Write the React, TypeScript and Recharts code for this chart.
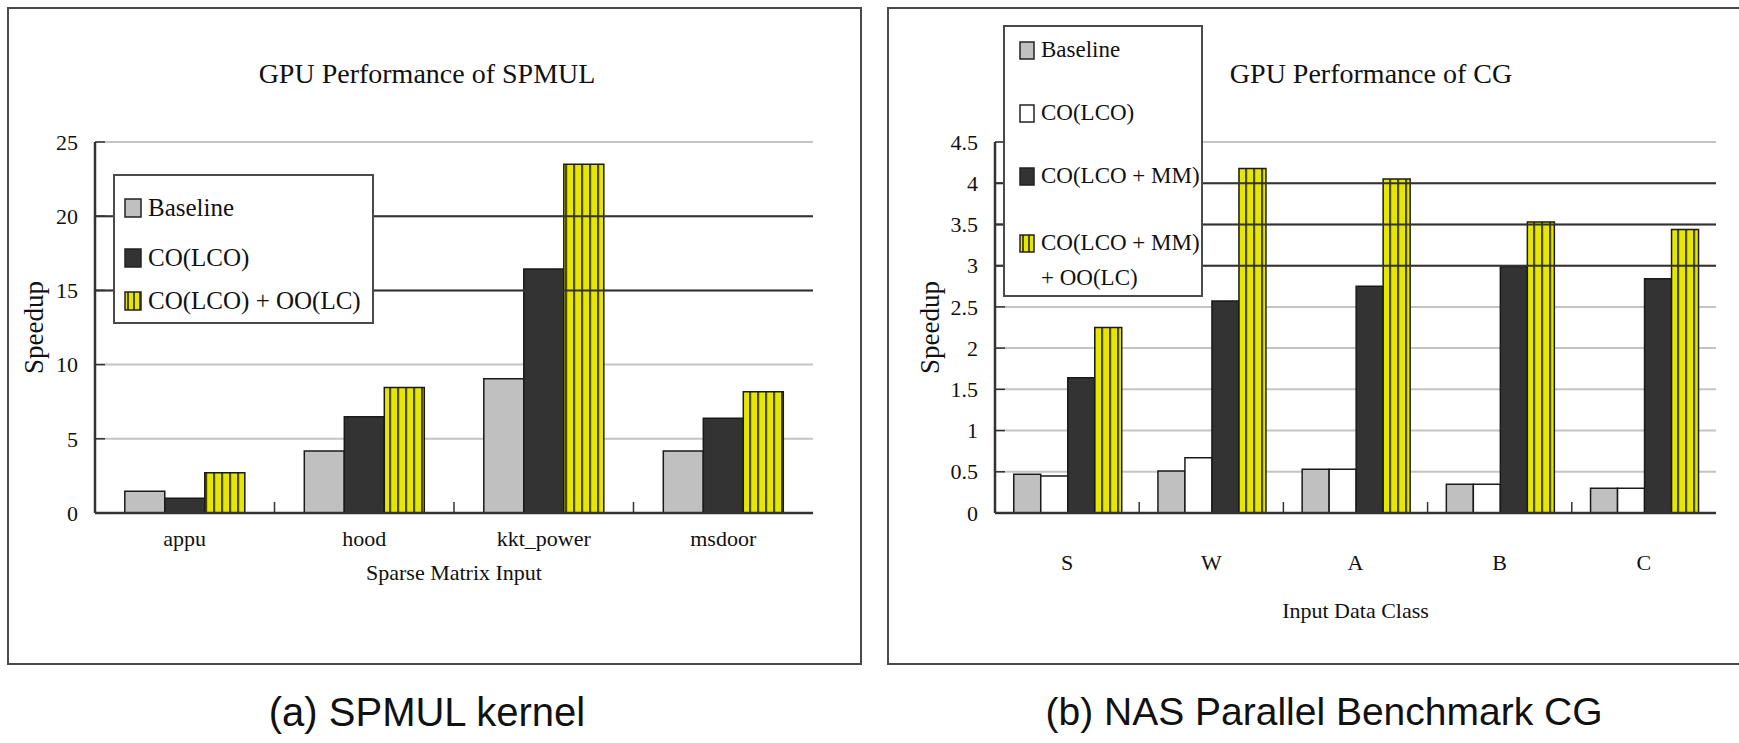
import { BarChart, Bar, XAxis, YAxis, CartesianGrid, ReferenceLine } from 'recharts';

// (a) SPMUL kernel
const spmulInputs = ['appu', 'hood', 'kkt_power', 'msdoor'];
const spmulBaseline = [1.47, 4.18, 9.04, 4.18];
const spmulCo = [0.99, 6.48, 16.44, 6.39];
const spmulCoOo = [2.71, 8.46, 23.5, 8.17];
const spmulTicks = [0, 5, 10, 15, 20, 25];
const spmulDarkGrid = [15, 20];

// (b) NAS Parallel Benchmark CG
const cgClasses = ['S', 'W', 'A', 'B', 'C'];
const cgBaseline = [0.47, 0.51, 0.53, 0.35, 0.3];
const cgCo = [0.45, 0.67, 0.53, 0.35, 0.3];
const cgCoMm = [1.64, 2.57, 2.75, 2.99, 2.84];
const cgCoMmOo = [2.25, 4.18, 4.05, 3.53, 3.44];
const cgTicks = [0, 0.5, 1, 1.5, 2, 2.5, 3, 3.5, 4, 4.5];
const cgDarkGrid = [3, 3.5, 4];

const SERIF = '"Liberation Serif", "DejaVu Serif", serif';
const SANS = '"Liberation Sans", Arial, sans-serif';
const INK = '#111';
const FRAME = '#4a4a4a';

type Series = { key: string; name: string; fill: string; striped?: boolean };

const spmulSeries: Series[] = [
  { key: 'baseline', name: 'Baseline', fill: '#c0c0c0' },
  { key: 'co', name: 'CO(LCO)', fill: '#333333' },
  { key: 'coOo', name: 'CO(LCO) + OO(LC)', fill: '#e6e600', striped: true },
];

const cgSeries: Series[] = [
  { key: 'baseline', name: 'Baseline', fill: '#c0c0c0' },
  { key: 'co', name: 'CO(LCO)', fill: '#ffffff' },
  { key: 'coMm', name: 'CO(LCO + MM)', fill: '#333333' },
  { key: 'coMmOo', name: 'CO(LCO + MM)\n+ OO(LC)', fill: '#e6e600', striped: true },
];

const spmulData = spmulInputs.map((name, i) => ({
  name,
  baseline: spmulBaseline[i],
  co: spmulCo[i],
  coOo: spmulCoOo[i],
}));

const cgData = cgClasses.map((name, i) => ({
  name,
  baseline: cgBaseline[i],
  co: cgCo[i],
  coMm: cgCoMm[i],
  coMmOo: cgCoMmOo[i],
}));

const Stripes = ({ id }: { id: string }) => (
  <pattern id={id} patternUnits="userSpaceOnUse" width={8} height={8}>
    <rect x={0} y={0} width={8} height={8} fill="#e6e600" />
    <rect x={5} y={0} width={2.2} height={8} fill="#4d4d00" />
  </pattern>
);

const Swatch = ({ s, id, w, h }: { s: Series; id: string; w: number; h: number }) => (
  <svg width={w} height={h} style={{ position: 'absolute', left: 0, top: 0 }}>
    {s.striped && (
      <defs>
        <pattern id={id} patternUnits="userSpaceOnUse" width={6} height={6}>
          <rect x={0} y={0} width={6} height={6} fill="#e6e600" />
          <rect x={3} y={0} width={2} height={6} fill="#4d4d00" />
        </pattern>
      </defs>
    )}
    <rect x={1} y={1} width={w - 2} height={h - 2} fill={s.striped ? `url(#${id})` : s.fill} stroke="#222" strokeWidth={1.5} />
  </svg>
);

interface LegendBoxProps {
  series: Series[];
  left: number;
  top: number;
  width: number;
  height: number;
  rowTops: number[];
  fontSize: number;
  swatchX: number;
  textX: number;
  swatchW: number;
  swatchH: number;
  idPrefix: string;
}

const LegendBox = (p: LegendBoxProps) => (
  <div
    style={{
      position: 'absolute',
      left: p.left,
      top: p.top,
      width: p.width,
      height: p.height,
      boxSizing: 'border-box',
      border: `2px solid ${FRAME}`,
      background: '#fff',
      fontFamily: SERIF,
      fontSize: p.fontSize,
      color: INK,
    }}
  >
    {p.series.map((s, i) => (
      <div key={s.key} style={{ position: 'absolute', left: 0, top: p.rowTops[i], width: '100%' }}>
        <div style={{ position: 'absolute', left: p.swatchX, top: (p.fontSize * 1.5 - p.swatchH) / 2, width: p.swatchW, height: p.swatchH }}>
          <Swatch s={s} id={`${p.idPrefix}-${s.key}`} w={p.swatchW} h={p.swatchH} />
        </div>
        <div style={{ position: 'absolute', left: p.textX, top: 0, whiteSpace: 'pre', lineHeight: 1.5 }}>
          {s.name}
        </div>
      </div>
    ))}
  </div>
);

const tickText = { fontSize: 22, fill: INK, fontFamily: SERIF };

// category label plus the small inner mark at the left edge of its band
const CategoryTick = (props: any) => {
  const { x, y, payload, index, width, visibleTicksCount, margin } = props;
  const half = payload?.offset || width / visibleTicksCount / 2;
  const axisY = y - margin;
  return (
    <g>
      {index > 0 && (
        <line x1={x - half} x2={x - half} y1={axisY} y2={axisY - 11} stroke="#333" strokeWidth={1.5} />
      )}
      <text x={x} y={y} dy="0.8em" textAnchor="middle" {...tickText}>
        {payload.value}
      </text>
    </g>
  );
};

// value label plus the inner tick mark
const ValueTick = (props: any) => {
  const { x, y, payload, margin } = props;
  const axisX = x + margin;
  return (
    <g>
      <line x1={axisX} x2={axisX + 10} y1={y} y2={y} stroke="#333" strokeWidth={1.5} />
      <text x={x} y={y} dy="0.35em" textAnchor="end" {...tickText}>
        {payload.value}
      </text>
    </g>
  );
};

interface ChartProps {
  data: Array<Record<string, string | number>>;
  series: Series[];
  ticks: number[];
  darkGrid: number[];
  width: number;
  height: number;
  margin: { top: number; right: number; bottom: number; left: number };
  yAxisWidth: number;
  xAxisHeight: number;
  xTickMargin: number;
  xLabel: string;
  xLabelOffset: number;
  yLabelOffset: number;
  categoryGap: string;
  patternId: string;
}

const SpeedupChart = (p: ChartProps) => {
  const top = p.ticks[p.ticks.length - 1];
  return (
    <BarChart
      width={p.width}
      height={p.height}
      data={p.data}
      margin={p.margin}
      barGap={0}
      barCategoryGap={p.categoryGap}
    >
      <defs>
        <Stripes id={p.patternId} />
      </defs>
      <CartesianGrid vertical={false} stroke="#c4c4c4" strokeWidth={2} />
      {p.darkGrid.map((v) => (
        <ReferenceLine key={v} y={v} stroke="#333" strokeWidth={2} />
      ))}
      <XAxis
        dataKey="name"
        height={p.xAxisHeight}
        tickLine={false}
        tickSize={0}
        tickMargin={p.xTickMargin}
        axisLine={{ stroke: '#333', strokeWidth: 2.5 }}
        tick={(props: any) => <CategoryTick {...props} margin={p.xTickMargin} />}
        label={{
          value: p.xLabel,
          position: 'insideBottom',
          offset: p.xLabelOffset,
          style: tickText,
        }}
      />
      <YAxis
        width={p.yAxisWidth}
        domain={[0, top]}
        ticks={p.ticks}
        interval={0}
        tickSize={0}
        tickMargin={17}
        tickLine={false}
        axisLine={{ stroke: '#333', strokeWidth: 2.5 }}
        tick={(props: any) => <ValueTick {...props} margin={17} />}
        label={{
          value: 'Speedup',
          angle: -90,
          position: 'insideLeft',
          offset: p.yLabelOffset,
          style: { textAnchor: 'middle', fontSize: 27, fill: INK, fontFamily: SERIF },
        }}
      />
      <YAxis
        yAxisId="right"
        orientation="right"
        width={0}
        domain={[0, top]}
        tick={false}
        tickLine={false}
        axisLine={{ stroke: '#bdbdbd', strokeWidth: 2 }}
      />
      {p.series.map((s) => (
        <Bar
          key={s.key}
          dataKey={s.key}
          name={s.name}
          fill={s.striped ? `url(#${p.patternId})` : s.fill}
          stroke="#1a1a1a"
          strokeWidth={1.5}
          isAnimationActive={false}
        />
      ))}
    </BarChart>
  );
};

const textBox = (left: number, centerY: number, width: number, size: number, family: string): React.CSSProperties => ({
  position: 'absolute',
  left,
  top: centerY - size * 0.6,
  width,
  height: size * 1.2,
  lineHeight: `${size * 1.2}px`,
  textAlign: 'center',
  fontSize: size,
  fontFamily: family,
  color: INK,
  whiteSpace: 'nowrap',
});

export default function App() {
  return (
    <div
      style={{
        position: 'absolute',
        left: 0,
        top: 0,
        width: 1739,
        height: 743,
        background: '#fff',
        overflow: 'hidden',
      }}
    >
      {/* panel frames */}
      <div style={{ position: 'absolute', left: 7, top: 7, width: 855, height: 658, boxSizing: 'border-box', border: `2.5px solid ${FRAME}` }} />
      <div style={{ position: 'absolute', left: 887, top: 7, width: 870, height: 658, boxSizing: 'border-box', border: `2.5px solid ${FRAME}` }} />

      <div style={{ position: 'absolute', left: 0, top: 0 }}>
        <SpeedupChart
          data={spmulData}
          series={spmulSeries}
          ticks={spmulTicks}
          darkGrid={spmulDarkGrid}
          width={870}
          height={743}
          margin={{ top: 142, right: 57, bottom: 150, left: 20 }}
          yAxisWidth={75}
          xAxisHeight={80}
          xTickMargin={15}
          xLabel="Sparse Matrix Input"
          xLabelOffset={13}
          yLabelOffset={13}
          categoryGap="16.6%"
          patternId="stripes-spmul"
        />
      </div>
      <div style={{ position: 'absolute', left: 880, top: 0 }}>
        <SpeedupChart
          data={cgData}
          series={cgSeries}
          ticks={cgTicks}
          darkGrid={cgDarkGrid}
          width={859}
          height={743}
          margin={{ top: 142, right: 23, bottom: 110, left: 30 }}
          yAxisWidth={85}
          xAxisHeight={120}
          xTickMargin={39}
          xLabel="Input Data Class"
          xLabelOffset={15}
          yLabelOffset={19}
          categoryGap="13%"
          patternId="stripes-cg"
        />
      </div>

      <div style={textBox(227, 74, 400, 28, SERIF)}>GPU Performance of SPMUL</div>
      <div style={textBox(1171, 74, 400, 28, SERIF)}>GPU Performance of CG</div>

      <LegendBox
        series={spmulSeries}
        left={113}
        top={174}
        width={261}
        height={150}
        rowTops={[13, 63, 106]}
        fontSize={25}
        swatchX={9}
        textX={33}
        swatchW={18}
        swatchH={20}
        idPrefix="lg-spmul"
      />
      <LegendBox
        series={cgSeries}
        left={1003}
        top={25}
        width={200}
        height={272}
        rowTops={[6, 69, 132, 199]}
        fontSize={23}
        swatchX={14}
        textX={36}
        swatchW={16}
        swatchH={19}
        idPrefix="lg-cg"
      />

      <div style={textBox(127, 712, 600, 40, SANS)}>(a) SPMUL kernel</div>
      <div style={textBox(1024, 712, 600, 39, SANS)}>(b) NAS Parallel Benchmark CG</div>
    </div>
  );
}
